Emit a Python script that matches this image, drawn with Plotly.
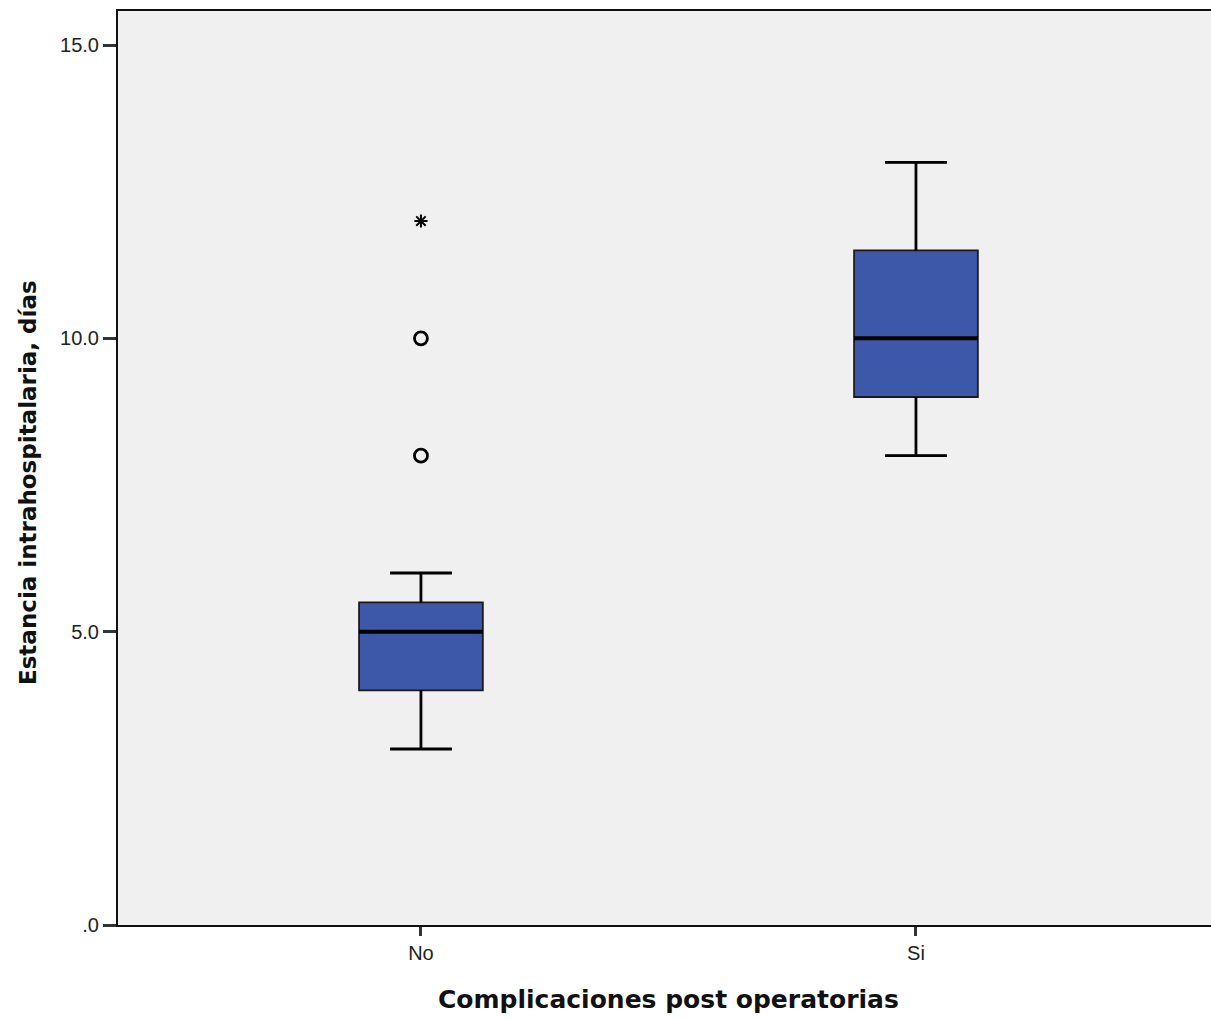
import plotly.graph_objects as go

# Summary statistics per group (days of hospital stay)
categories = ["No", "Si"]
lower_whisker = [3, 8]
q1_values = [4, 9]
medians = [5, 10]
q3_values = [5.5, 11.5]
upper_whisker = [6, 13]

# Outliers for the "No" group
outlier_cat = ["No", "No"]
outlier_vals = [8, 10]
extreme_cat = ["No"]
extreme_vals = [12]

y_tickvals = [0, 5, 10, 15]
y_ticktext = [".0", "5.0", "10.0", "15.0"]

x_title = "Complicaciones post operatorias"
y_title = "Estancia intrahospitalaria, días"

box_fill = "#3D58A9"
ink = "#000000"
box_half = 0.125
cap_half = box_half / 2

fig = go.Figure()

fig.add_trace(go.Box(
    x=categories,
    q1=q1_values,
    median=medians,
    q3=q3_values,
    lowerfence=lower_whisker,
    upperfence=upper_whisker,
    fillcolor=box_fill,
    line=dict(color="#1a1a1a", width=1.8),
    width=2 * box_half,
    whiskerwidth=0.5,
    boxpoints=False,
    hoverinfo="skip",
    showlegend=False,
))

# Heavier whiskers, caps and median bars drawn over each box
for idx in range(len(categories)):
    lo, q1, med, q3, hi = (lower_whisker[idx], q1_values[idx], medians[idx],
                           q3_values[idx], upper_whisker[idx])
    segments = [
        ([idx, idx], [lo, q1], 2.8),
        ([idx, idx], [q3, hi], 2.8),
        ([idx - cap_half, idx + cap_half], [lo, lo], 2.8),
        ([idx - cap_half, idx + cap_half], [hi, hi], 2.8),
        ([idx - box_half, idx + box_half], [med, med], 4),
    ]
    for xs, ys, w in segments:
        fig.add_trace(go.Scatter(
            x=xs, y=ys, mode="lines",
            line=dict(color=ink, width=w),
            xaxis="x2", showlegend=False, hoverinfo="skip",
        ))

fig.add_trace(go.Scatter(
    x=outlier_cat, y=outlier_vals, mode="markers",
    marker=dict(symbol="circle-open", size=13, color=ink, line=dict(width=2.8)),
    showlegend=False, hoverinfo="skip",
))
fig.add_trace(go.Scatter(
    x=extreme_cat, y=extreme_vals, mode="markers",
    marker=dict(symbol="asterisk-open", size=11, color=ink, line=dict(width=2)),
    showlegend=False, hoverinfo="skip",
))

x_range = [-0.612, 1.596]
tick_font = dict(family="Liberation Sans, Arial, sans-serif", size=20, color="#222222")

fig.update_layout(
    width=1211, height=1019,
    margin=dict(l=118, r=0, t=11, b=94),
    paper_bgcolor="white",
    plot_bgcolor="#F0F0F0",
    xaxis=dict(
        type="category",
        categoryorder="array", categoryarray=categories,
        range=x_range,
        showgrid=False, zeroline=False,
        showline=True, linecolor="#111111", linewidth=2, mirror=True,
        ticks="outside", ticklen=9, tickwidth=2.5, tickcolor="#333333",
        tickfont=tick_font,
    ),
    xaxis2=dict(overlaying="x", range=x_range, visible=False),
    yaxis=dict(
        range=[0, 15.58],
        tickvals=y_tickvals, ticktext=y_ticktext,
        showgrid=False, zeroline=False,
        showline=True, linecolor="#111111", linewidth=2, mirror=False,
        ticks="outside", ticklen=13, tickwidth=2.5, tickcolor="#333333",
        tickfont=tick_font,
    ),
    annotations=[
        dict(text="<b>%s</b>" % x_title, xref="paper", yref="paper",
             x=0.504, y=-0.082, xanchor="center", yanchor="middle",
             showarrow=False,
             font=dict(family="DejaVu Sans, sans-serif", size=25, color="#111111")),
        dict(text="<b>%s</b>" % y_title, xref="paper", yref="paper",
             x=-0.0823, y=0.4836, xanchor="center", yanchor="middle",
             textangle=-90, showarrow=False,
             font=dict(family="DejaVu Sans, sans-serif", size=23, color="#111111")),
    ],
)

fig.write_html("out.html")
